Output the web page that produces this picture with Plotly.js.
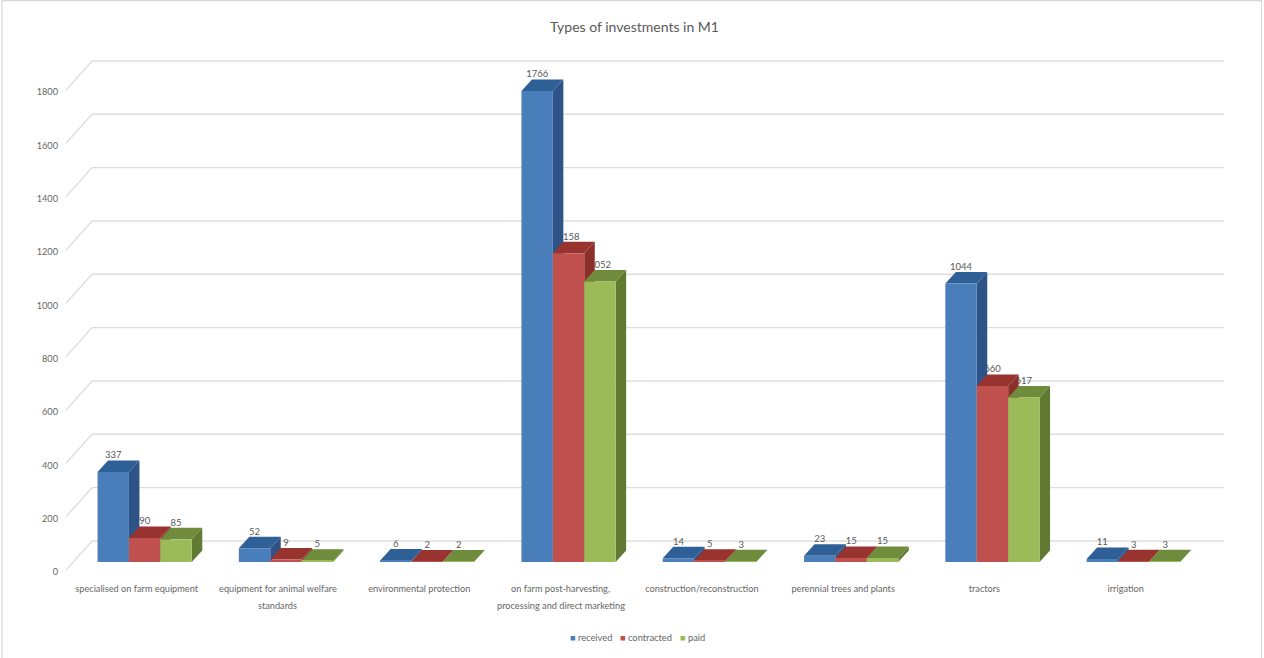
<!DOCTYPE html>
<html>
<head>
<meta charset="utf-8">
<script src="https://cdn.plot.ly/plotly-3.0.1.min.js"></script>
<style>html,body{margin:0;padding:0;background:#fff;}</style>
</head>
<body>
<div id="chart" style="width:1264px;height:658px;"></div>
<script>
// Investment types under measure M1: applications by stage
const categories = [
  "specialised on farm equipment",
  "equipment for animal welfare|standards",
  "environmental protection",
  "on farm post-harvesting,|processing and direct marketing",
  "construction/reconstruction",
  "perennial trees and plants",
  "tractors",
  "irrigation"
];
const seriesNames = ["received", "contracted", "paid"];
const received = [337, 52, 6, 1766, 14, 23, 1044, 11];
const contracted = [90, 9, 2, 1158, 5, 15, 660, 3];
const paid = [85, 5, 2, 1052, 3, 15, 617, 3];
const yTicks = [0, 200, 400, 600, 800, 1000, 1200, 1400, 1600, 1800];

const frontColors = ["#4a7ebb", "#c0504d", "#9bbb59"];
const topColors = ["#2f5f97", "#99332f", "#6f8b3c"];
const sideColors = ["#2e5386", "#8a2f2c", "#607a32"];

const FONT = 'Lato, "Liberation Sans", sans-serif';
const TEXT_GREY = "#666666";

// Pixel scale of the pseudo-3D projection
const pxPerCat = 141.3, pxPerUnit = 0.2667;
const plot = {left: 66, right: 1240, top: 40, bottom: 570, W: 1264, H: 658};
const toCat = px => px / pxPerCat, toVal = px => px / pxPerUnit;

const seriesValues = [received, contracted, paid];
const barSlot = (1 - 1 / 3) / 3;

const xRange = [-0.5, -0.5 + toCat(plot.right - plot.left)];
const yRange = [0, toVal(plot.bottom - plot.top)];
const planeShift = 8;  // bars stand this far behind the front edge of the floor
const x2Range = xRange.map(v => v - toCat(planeShift));
const y2Range = yRange.map(v => v - toVal(planeShift));

const traces = [];

// Walls: slanted segment on the side wall, then the run along the back wall
const gridX = [], gridY = [];
yTicks.forEach(t => {
  gridX.push(-0.5, -0.5 + toCat(26), -0.5 + toCat(1224 - plot.left), null);
  gridY.push(t, t + toVal(29), t + toVal(29), null);
});
traces.push({
  x: gridX, y: gridY, mode: "lines", type: "scatter", xaxis: "x", yaxis: "y",
  line: {color: "#dedede", width: 1.4}, hoverinfo: "skip", showlegend: false
});

// Value labels sit behind the boxes, so neighbouring faces can cover part of them
seriesValues.forEach((vals, s) => {
  traces.push({
    x: vals.map((_, i) => i + (s - 1) * barSlot),
    y: vals.map(v => v + toVal(16)),
    text: vals.map(String),
    mode: "text", type: "scatter", xaxis: "x2", yaxis: "y2",
    textposition: "middle center",
    textfont: {family: FONT, size: 9.5, color: "#595959"},
    hoverinfo: "skip", showlegend: false
  });
});

// Side and top faces of each box, derived from its value
const depthX = toCat(10.5), depthY = toVal(11.5);
seriesValues.forEach((vals, s) => {
  const sideX = [], sideY = [], topX = [], topY = [];
  vals.forEach((v, i) => {
    const c = i + (s - 1) * barSlot;
    const l = c - barSlot / 2, r = c + barSlot / 2;
    sideX.push(r, r + depthX, r + depthX, r, r, null);
    sideY.push(0, depthY, v + depthY, v, 0, null);
    topX.push(l, r, r + depthX, l + depthX, l, null);
    topY.push(v, v, v + depthY, v + depthY, v, null);
  });
  [[sideX, sideY, sideColors[s]], [topX, topY, topColors[s]]].forEach(f => {
    traces.push({
      x: f[0], y: f[1], mode: "lines", type: "scatter", xaxis: "x2", yaxis: "y2",
      fill: "toself", fillcolor: f[2], line: {width: 0, color: f[2]},
      hoverinfo: "skip", showlegend: false
    });
  });
});

// Front faces
seriesValues.forEach((vals, s) => {
  traces.push({
    type: "bar", name: seriesNames[s], xaxis: "x3", yaxis: "y3",
    x: categories.map((_, i) => i), y: vals,
    marker: {color: frontColors[s], line: {width: 0}},
    showlegend: false
  });
});

// Compact legend row under the chart
const legendAnchors = [567.5, 617.5, 677.5];
const annotations = seriesNames.map((n, s) => ({
  xref: "paper", yref: "paper", xanchor: "left", yanchor: "middle",
  x: legendAnchors[s] / plot.W, y: 1 - 637 / plot.H, showarrow: false,
  text: '<span style="color:' + frontColors[s] + '">■</span> ' + n,
  font: {family: FONT, size: 9.3, color: TEXT_GREY}
}));

// Category labels: second lines are set lower than the tick font's own leading allows
categories.forEach((c, i) => {
  const parts = c.split("|");
  if (parts[1]) {
    annotations.push({
      xref: "x", yref: "paper", x: i, y: 1 - 605 / plot.H,
      xanchor: "center", yanchor: "middle", showarrow: false, text: parts[1],
      font: {family: FONT, size: 9.2, color: TEXT_GREY}
    });
  }
});

const hiddenAxis = (range, over) => ({
  range: range, overlaying: over, visible: false, fixedrange: true
});

const layout = {
  width: plot.W, height: plot.H, autosize: false,
  margin: {l: 0, r: 0, t: 0, b: 0, pad: 0},
  paper_bgcolor: "#ffffff", plot_bgcolor: "rgba(0,0,0,0)",
  title: {
    text: "Types of investments in M1",
    x: 634.5 / plot.W, y: 1 - 27 / plot.H, xanchor: "center", yanchor: "middle",
    font: {family: FONT, size: 14, color: "#595959"}
  },
  barmode: "group", bargap: 1 / 3, bargroupgap: 0,
  showlegend: false,
  xaxis: {
    domain: [plot.left / plot.W, plot.right / plot.W],
    range: xRange, tickmode: "array",
    tickvals: categories.map((_, i) => i), ticktext: categories.map(c => c.split("|")[0]),
    showgrid: false, zeroline: false, showline: false, ticks: "",
    tickangle: 0, ticklabelstandoff: 12,
    tickfont: {family: FONT, size: 9.2, color: TEXT_GREY}, fixedrange: true
  },
  yaxis: {
    domain: [1 - plot.bottom / plot.H, 1 - plot.top / plot.H],
    range: yRange, tickmode: "array",
    tickvals: yTicks, ticktext: yTicks.map(String),
    showgrid: false, zeroline: false, showline: false, ticks: "",
    ticklabelstandoff: 7, ticklabelshift: 2,
    tickfont: {family: FONT, size: 9.2, color: TEXT_GREY}, fixedrange: true
  },
  xaxis2: hiddenAxis(x2Range, "x"),
  yaxis2: hiddenAxis(y2Range, "y"),
  xaxis3: hiddenAxis(x2Range, "x"),
  yaxis3: hiddenAxis(y2Range, "y"),
  annotations: annotations,
  shapes: [{
    type: "rect", xref: "paper", yref: "paper", x0: 2 / plot.W, x1: 1261.5 / plot.W,
    y0: -0.01, y1: 1 - 0.7 / plot.H, line: {color: "#d9d9d9", width: 1.2}, fillcolor: "rgba(0,0,0,0)"
  }]
};

Plotly.newPlot("chart", traces, layout, {displayModeBar: false, responsive: false});
</script>
</body>
</html>
